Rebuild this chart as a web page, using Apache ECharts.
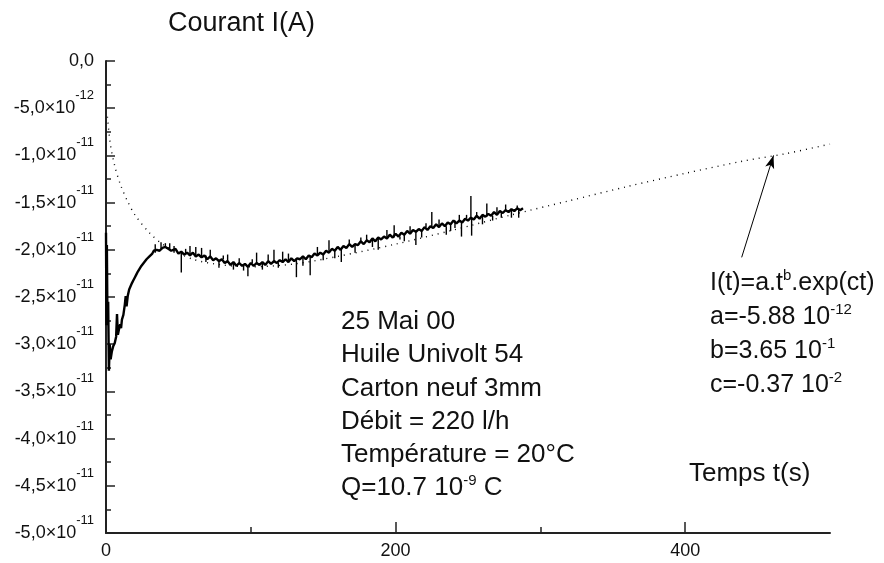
<!DOCTYPE html>
<html><head><meta charset="utf-8">
<script src="https://cdn.jsdelivr.net/npm/echarts@6/dist/echarts.min.js"></script>
<style>html,body{margin:0;padding:0;background:#fff}#c{width:884px;height:563px}</style>
</head><body><div id="c"></div>
<script>
// Units: time in seconds, current in pA (1e-12 A)
const timeS = [0,0.3,0.6,1.0,1.5,2.0,2.6,3.2,4,5,6,7,7.6,8.2,9,9.8,10.4,11,12,13,13.6,14.2,15,16,17,18,19,20,21,22,23,24,25,26,27,28,29,30,31,32,33,34,35,36,37,38,39,40,41,42,43,44,45,
46,48,50,52,54,56,58,60,62,64,66,68,70,72,74,76,78,80,82,84,86,88,90,92,94,96,98,100,102,104,106,108,110,112,114,116,118,120,122,124,126,128,130,132,134,136,138,140,142,144,146,148,150,152,154,156,158,160,162,164,166,168,170,172,174,176,178,180,182,184,186,188,190,192,194,196,198,200,202,204,206,208,210,212,214,216,218,220,222,224,226,228,230,232,234,236,238,240,242,244,246,248,250,252,254,256,258,260,262,264,266,268,270,272,274,276,278,280,282,284,286,288];
const currentPA = [-18.2,-28.0,-19.5,-27.5,-25.5,-32.8,-30.0,-31.6,-30.8,-30.2,-29.9,-29.2,-26.8,-29.0,-28.4,-27.9,-28.3,-27.4,-26.9,-25.8,-24.9,-26.0,-24.9,-24.2,-24.0,-23.5,-23.2,-22.9,-22.6,-22.3,-22.2,-21.8,-21.7,-21.4,-21.2,-21.0,-20.9,-20.7,-20.6,-20.4,-20.1,-20.3,-20.0,-19.8,-20.1,-19.9,-19.8,-20.0,-19.7,-19.8,-19.9,-20.0,-20.1,
-20.3,-19.9,-20.4,-20.2,-20.5,-20.3,-20.6,-20.3,-20.7,-20.5,-20.8,-20.6,-21.0,-20.7,-21.1,-20.9,-21.2,-21.0,-21.4,-21.2,-21.6,-21.3,-21.7,-21.4,-21.7,-21.5,-21.8,-21.4,-21.7,-21.4,-21.6,-21.3,-21.6,-21.2,-21.5,-21.2,-21.4,-21.1,-21.3,-21.0,-21.3,-20.9,-21.2,-20.9,-21.0,-20.7,-21.0,-20.6,-20.8,-20.4,-20.6,-20.3,-20.5,-20.1,-20.3,-19.9,-20.1,-19.7,-20.0,-19.6,-19.8,-19.4,-19.7,-19.4,-19.5,-19.1,-19.4,-19.0,-19.2,-18.8,-19.1,-18.7,-18.9,-18.6,-18.8,-18.4,-18.7,-18.3,-18.6,-18.2,-18.4,-18.0,-18.3,-17.9,-18.1,-17.8,-18.0,-17.6,-17.9,-17.5,-17.7,-17.3,-17.6,-17.2,-17.5,-17.1,-17.3,-16.9,-17.2,-16.9,-17.1,-16.7,-16.9,-16.6,-16.8,-16.4,-16.7,-16.3,-16.5,-16.2,-16.4,-16.0,-16.3,-15.9,-16.1,-15.8,-16.0,-15.7,-15.9,-15.6,-15.8,-15.6];
// fitted curve I(t)=a.t^b.exp(ct)
const fitTimeS = [1,3,6,10,15,20,30,40,60,80,100,130,160,200,240,280,320,360,400,440,470,500];
const fitCurrentPA = [-5.9,-8.8,-11.1,-13.1,-14.9,-16.3,-18.2,-19.5,-21.0,-21.6,-21.8,-21.5,-20.7,-19.4,-17.9,-16.3,-14.8,-13.3,-11.9,-10.6,-9.8,-8.8];
// noise spikes in the measurement
const spikeTimeS = [34,38,41,44,47,52,55,58,62,66,69,72,78,81,84,88,92,95,98,101,104,108,112,116,119,122,126,131.5,136,141,146,150,154,158,162.5,168,172,176,180,184,188,194,199,203,206,210,214,218,221,225,230,235,238,241,244,245.5,249,252,252.5,256,260,263,267,270,273,276,280,284,285];
const spikePeakPA = [-19.4,-19.2,-19.3,-19.3,-19.6,-22.4,-19.9,-19.6,-19.7,-19.8,-21.3,-20.0,-21.9,-20.6,-20.5,-22.1,-20.9,-22.2,-22.8,-21.0,-20.3,-22.1,-20.5,-20.0,-21.9,-20.2,-20.4,-22.9,-21.7,-22.7,-19.7,-21.1,-19.0,-20.9,-21.3,-18.9,-20.3,-18.7,-18.4,-19.7,-20.0,-17.9,-17.4,-18.9,-19.1,-17.5,-19.5,-18.7,-17.2,-16.0,-16.8,-18.4,-18.0,-17.7,-16.3,-18.6,-16.3,-14.3,-18.5,-16.0,-17.3,-15.1,-16.9,-15.5,-16.6,-15.2,-16.6,-15.3,-16.6];
const arrowFrom = [439, -20.8];
const arrowTo = [461, -10.0];
const xMajorTicks = [0, 200, 400];
const xMinorTicks = [100, 300];
const yMajorTicks = [0,-5,-10,-15,-20,-25,-30,-35,-40,-45,-50];
const yMinorTicks = [-2.5,-7.5,-12.5,-17.5,-22.5,-27.5,-32.5,-37.5,-42.5,-47.5];
const yTickLabels = ['0,0','-5,0×10{s|-12}','-1,0×10{s|-11}','-1,5×10{s|-11}','-2,0×10{s|-11}','-2,5×10{s|-11}','-3,0×10{s|-11}','-3,5×10{s|-11}','-4,0×10{s|-11}','-4,5×10{s|-11}','-5,0×10{s|-11}'];
const titleText = 'Courant I(A)';
const xTitleText = 'Temps t(s)';
const infoLines = ['25 Mai 00','Huile Univolt 54','Carton neuf 3mm','Débit = 220 l/h','Température = 20°C','Q=10.7 10{s|-9} C'];
const fitLines = ['I(t)=a.t{s|b}.exp(ct)','a=-5.88 10{s|-12}','b=3.65 10{s|-1}','c=-0.37 10{s|-2}'];

const FF = '"Liberation Sans", Arial, sans-serif';
const INK = '#111';
const chart = echarts.init(document.getElementById('c'), null, {renderer: 'canvas'});

function nearestValue(t) {
  let best = 0;
  for (let i = 1; i < timeS.length; i++) {
    if (Math.abs(timeS[i] - t) < Math.abs(timeS[best] - t)) best = i;
  }
  return currentPA[best];
}
const spikeData = spikeTimeS.map((t, i) => [t, spikePeakPA[i], nearestValue(t)]);

function annText(text, x, y, size) {
  return {
    type: 'text', x: x, y: y, silent: true,
    style: {text: text, fill: INK, fontSize: size, fontFamily: FF, lineHeight: 30,
      verticalAlign: 'middle', textAlign: 'left',
      rich: {s: {fontSize: 15, lineHeight: 18, verticalAlign: 'top', fill: INK, fontFamily: FF}}}
  };
}
const graphics = [];
graphics.push(annText(titleText, 168, 24, 27));
infoLines.forEach((l, i) => graphics.push(annText(l, 341, 322 + i * 33.2, 26)));
fitLines.forEach((l, i) => graphics.push(annText(l, 710, 283 + i * 34, 25)));
graphics.push(annText(xTitleText, 689, 474, 26));

const axisColor = '#222';
const option = {
  animation: false,
  backgroundColor: '#fff',
  grid: {left: 106, right: 54, top: 61, bottom: 30, containLabel: false},
  xAxis: [
    {type: 'value', min: 0, max: 500, position: 'bottom',
     axisLine: {show: true, onZero: false, lineStyle: {color: axisColor, width: 2}},
     axisTick: {show: true, inside: true, length: 11, customValues: xMajorTicks, lineStyle: {color: axisColor, width: 1.5}},
     axisLabel: {show: true, customValues: xMajorTicks, fontSize: 18, color: INK, fontFamily: FF, margin: 9},
     splitLine: {show: false}},
    {type: 'value', min: 0, max: 500, position: 'bottom',
     axisLine: {show: false, onZero: false},
     axisTick: {show: true, inside: true, length: 6, customValues: xMinorTicks, lineStyle: {color: axisColor, width: 1.5}},
     axisLabel: {show: false}, splitLine: {show: false}}
  ],
  yAxis: [
    {type: 'value', min: -50, max: 0, position: 'left',
     axisLine: {show: true, onZero: false, lineStyle: {color: axisColor, width: 2}},
     axisTick: {show: true, inside: true, length: 9, customValues: yMajorTicks, lineStyle: {color: axisColor, width: 1.5}},
     axisLabel: {show: true, customValues: yMajorTicks, fontSize: 18, color: INK, fontFamily: FF, margin: 12,
       lineHeight: 38,
       formatter: function (v) { const i = yMajorTicks.findIndex(t => Math.abs(t - v) < 1e-6); return i >= 0 ? yTickLabels[i] : ''; },
       rich: {s: {fontSize: 13, lineHeight: 13, verticalAlign: 'top', color: INK, fontFamily: FF}}},
     splitLine: {show: false}},
    {type: 'value', min: -50, max: 0, position: 'left',
     axisLine: {show: false, onZero: false},
     axisTick: {show: true, inside: true, length: 5, customValues: yMinorTicks, lineStyle: {color: axisColor, width: 1.5}},
     axisLabel: {show: false}, splitLine: {show: false}}
  ],
  series: [
    {type: 'line', name: 'fit', xAxisIndex: 0, yAxisIndex: 0, z: 2,
     data: fitTimeS.map((t, i) => [t, fitCurrentPA[i]]),
     showSymbol: false, smooth: 0.3, silent: true,
     lineStyle: {color: '#000', width: 1.4, type: [1, 5]},
     markLine: {silent: true, symbol: ['none', 'arrow'], symbolSize: [7, 13], animation: false,
       label: {show: false},
       lineStyle: {color: '#000', width: 1, type: 'solid'},
       data: [[{coord: arrowFrom}, {coord: arrowTo}]]}},
    {type: 'line', name: 'mesure', xAxisIndex: 0, yAxisIndex: 0, z: 3,
     data: timeS.map((t, i) => [t, currentPA[i]]),
     showSymbol: false, silent: true,
     lineStyle: {color: '#000', width: 2.4}},
    {type: 'custom', name: 'pics', xAxisIndex: 0, yAxisIndex: 0, z: 4, silent: true,
     data: spikeData,
     renderItem: function (params, api) {
       const t = api.value(0), peak = api.value(1), base = api.value(2);
       const p1 = api.coord([t, base]), p2 = api.coord([t, peak]);
       return {type: 'line', shape: {x1: p1[0], y1: p1[1], x2: p2[0], y2: p2[1]},
               style: {stroke: '#000', lineWidth: 1.4}};
     }}
  ],
  graphic: graphics
};
chart.setOption(option);
</script></body></html>
